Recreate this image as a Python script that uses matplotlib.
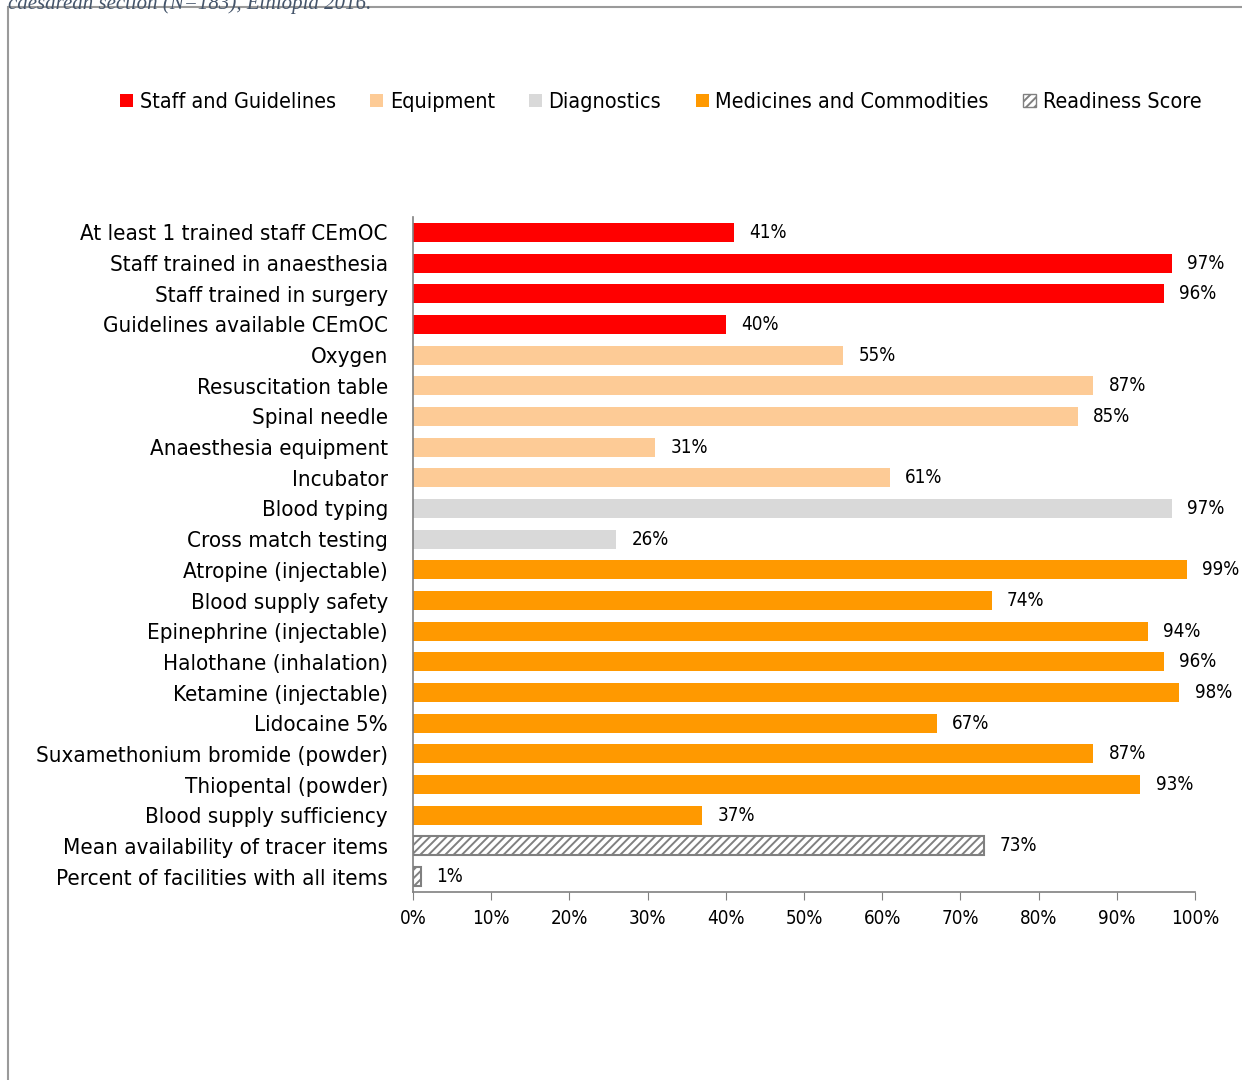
import numpy as np
import matplotlib.pyplot as plt
from matplotlib.patches import Rectangle, Patch
from matplotlib import font_manager
from matplotlib.font_manager import FontProperties

# Datos
etiquetas = [
    "At least 1 trained staff CEmOC", "Staff trained in anaesthesia",
    "Staff trained in surgery", "Guidelines available CEmOC",
    "Oxygen", "Resuscitation table", "Spinal needle",
    "Anaesthesia equipment", "Incubator",
    "Blood typing", "Cross match testing",
    "Atropine (injectable)", "Blood supply safety", "Epinephrine (injectable)",
    "Halothane (inhalation)", "Ketamine (injectable)", "Lidocaine 5%",
    "Suxamethonium bromide (powder)", "Thiopental (powder)",
    "Blood supply sufficiency",
    "Mean availability of tracer items", "Percent of facilities with all items",
]
valores = [41, 97, 96, 40, 55, 87, 85, 31, 61, 97, 26,
           99, 74, 94, 96, 98, 67, 87, 93, 37, 73, 1]
grupos = (["Staff and Guidelines"] * 4 + ["Equipment"] * 5 + ["Diagnostics"] * 2
          + ["Medicines and Commodities"] * 9 + ["Readiness Score"] * 2)
nombres_grupos = ["Staff and Guidelines", "Equipment", "Diagnostics",
                  "Medicines and Commodities", "Readiness Score"]
colores = {"Staff and Guidelines": "#FF0000", "Equipment": "#FDCB96",
           "Diagnostics": "#D9D9D9", "Medicines and Commodities": "#FF9900",
           "Readiness Score": "white"}

# Buscar una fuente estrecha (tipo Arial Narrow)
fuente_archivo = None
for f in font_manager.fontManager.ttflist:
    if ('Narrow' in f.name or 'Condensed' in f.name or f.stretch in ('condensed', 'semi-condensed', 300)) \
            and f.style == 'normal' and f.weight in ('normal', 400, 'regular'):
        if fuente_archivo is None or 'Liberation' in f.name:
            fuente_archivo = f.fname
escala = 1.0
if fuente_archivo is None:
    fuente_archivo = font_manager.findfont('Liberation Sans')
    escala = 0.9

def fp(size):
    return FontProperties(fname=fuente_archivo, size=size * escala)

plt.rcParams['hatch.color'] = '#808080'
plt.rcParams['hatch.linewidth'] = 1.4

fig = plt.figure(figsize=(12.42, 10.8), dpi=100)

# Marco y titulo recortado (como en la imagen original)
fig.patches.append(Rectangle((8 / 1242, -0.01), 1.0, 1 - 7 / 1080 + 0.01,
                             transform=fig.transFigure, fill=False,
                             edgecolor='#9a9a9a', linewidth=1.5))
fig.text(8 / 1242, 1 - 4 / 1080, "caesarean section (N=183), Ethiopia 2016.",
         fontsize=15, style='italic', color='#44546A', family='Liberation Serif',
         ha='left', va='center')

ax = fig.add_axes([413 / 1242, 1 - 892 / 1080, 782 / 1242, 675 / 1080])
y = np.arange(len(etiquetas))
for i, (v, g) in enumerate(zip(valores, grupos)):
    if g == "Readiness Score":
        ax.barh(i, v, height=0.62, color='white', edgecolor='#808080',
                hatch='////', linewidth=1.5)
    else:
        ax.barh(i, v, height=0.62, color=colores[g])
    ax.annotate(f"{v}%", (v, i), xytext=(11, 0), textcoords='offset points',
                va='center', ha='left', fontproperties=fp(13.5))

ax.set_ylim(len(etiquetas) - 0.5, -0.5)
ax.set_xlim(0, 100)
ax.set_yticks(y)
ax.set_yticklabels(etiquetas, fontproperties=fp(16))
ax.set_xticks(np.arange(0, 101, 10))
ax.set_xticklabels([f"{t}%" for t in range(0, 101, 10)], fontproperties=fp(13.5))
ax.tick_params(axis='y', length=0, pad=18)
ax.tick_params(axis='x', length=6, color='#808080', pad=6)
for s in ['top', 'right']:
    ax.spines[s].set_visible(False)
for s in ['left', 'bottom']:
    ax.spines[s].set_color('#808080')
    ax.spines[s].set_linewidth(1.2)

handles = []
for g in nombres_grupos:
    if g == "Readiness Score":
        handles.append(Patch(facecolor='white', edgecolor='#808080', hatch='////'))
    else:
        handles.append(Patch(facecolor=colores[g], edgecolor='none'))
fig.legend(handles, nombres_grupos, loc='center', bbox_to_anchor=(0.532, 1 - 102 / 1080),
           ncol=5, frameon=False, prop=fp(15.5), handlelength=0.6, handleheight=0.6,
           handletextpad=0.3, columnspacing=1.6)

plt.savefig("out.png", dpi=100)
plt.close()
